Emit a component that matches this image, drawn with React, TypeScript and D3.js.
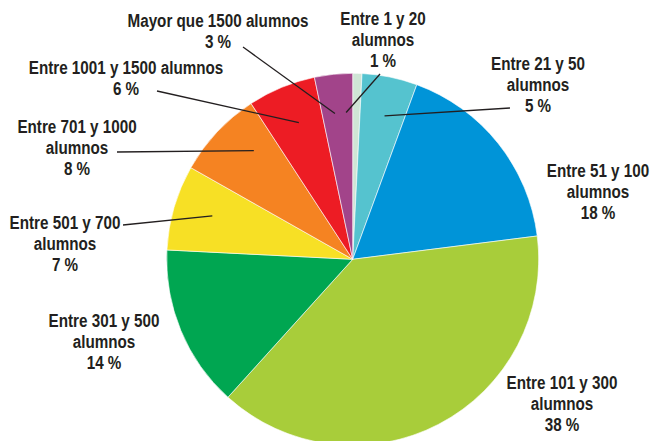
import React from "react";
import * as d3 from "d3";

const categories = [
  "Entre 1 y 20 alumnos",
  "Entre 21 y 50 alumnos",
  "Entre 51 y 100 alumnos",
  "Entre 101 y 300 alumnos",
  "Entre 301 y 500 alumnos",
  "Entre 501 y 700 alumnos",
  "Entre 701 y 1000 alumnos",
  "Entre 1001 y 1500 alumnos",
  "Mayor que 1500 alumnos",
];
const shares = [0.8, 4.8, 17.4, 38.7, 14.1, 7.4, 7.6, 5.9, 3.3];
const percentLabels = ["1 %", "5 %", "18 %", "38 %", "14 %", "7 %", "8 %", "6 %", "3 %"];
const labelLines = [
  ["Entre 1 y 20", "alumnos"],
  ["Entre 21 y 50", "alumnos"],
  ["Entre 51 y 100", "alumnos"],
  ["Entre 101 y 300", "alumnos"],
  ["Entre 301 y 500", "alumnos"],
  ["Entre 501 y 700", "alumnos"],
  ["Entre 701 y 1000", "alumnos"],
  ["Entre 1001 y 1500 alumnos"],
  ["Mayor que 1500 alumnos"],
];

const colors = ["#cfe5d5", "#55c3cf", "#0094d8", "#a8cd3a", "#00a651", "#f7e025", "#f58322", "#ed1c24", "#a2448a"];

// layout of annotations: text centre x, first baseline y, optional leader start, angle tweak (deg)
const layout = [
  { x: 383, y: 25, lead: [380, 74], dA: -4 },
  { x: 538, y: 70, lead: [510, 108], dA: 1 },
  { x: 598, y: 177, lead: null, dA: 0 },
  { x: 562, y: 389, lead: null, dA: 0 },
  { x: 104, y: 327, lead: null, dA: 0 },
  { x: 65, y: 229, lead: [123, 225], dA: 1 },
  { x: 77, y: 133, lead: [117, 152], dA: 4.5 },
  { x: 126, y: 74, lead: [157, 91], dA: 1 },
  { x: 218, y: 27, lead: [243, 47], dA: -1 },
];

const W = 651;
const H = 441;
const cx = 352.7;
const cy = 259.3;
const R = 186;
const lineH = 21;
const squeeze = 0.87;

export default function App() {
  const pie = d3.pie<number>().sort(null).value((d) => d);
  const arcs = pie(shares);
  const arcGen = d3.arc<d3.PieArcDatum<number>>().innerRadius(0).outerRadius(R);

  return (
    <svg
      width={W}
      height={H}
      style={{ position: "absolute", left: 0, top: 0, background: "#fff" }}
      fontFamily="'Liberation Sans', Arial, sans-serif"
      fontWeight="bold"
    >
      <g transform={`translate(${cx},${cy})`}>
        {arcs.map((a, i) => (
          <path key={categories[i]} d={arcGen(a) || ""} fill={colors[i]} stroke="#fff" strokeWidth={0.6} />
        ))}
      </g>
      {arcs.map((a, i) => {
        const L = layout[i];
        if (!L.lead) return null;
        const mid = (a.startAngle + a.endAngle) / 2 + (L.dA * Math.PI) / 180;
        const r = R * 0.79;
        const ex = cx + r * Math.sin(mid);
        const ey = cy - r * Math.cos(mid);
        return (
          <line key={"l" + i} x1={L.lead[0]} y1={L.lead[1]} x2={ex} y2={ey} stroke="#231f20" strokeWidth={1.3} />
        );
      })}
      {labelLines.map((lines, i) => {
        const L = layout[i];
        const all = [...lines, percentLabels[i]];
        return (
          <g key={"t" + i} transform={`translate(${L.x},${L.y}) scale(${squeeze},1)`}>
            <text textAnchor="middle" fontSize={17.5} fill="#231f20">
              {all.map((s, j) => (
                <tspan key={j} x={0} y={j * lineH}>
                  {s}
                </tspan>
              ))}
            </text>
          </g>
        );
      })}
    </svg>
  );
}
